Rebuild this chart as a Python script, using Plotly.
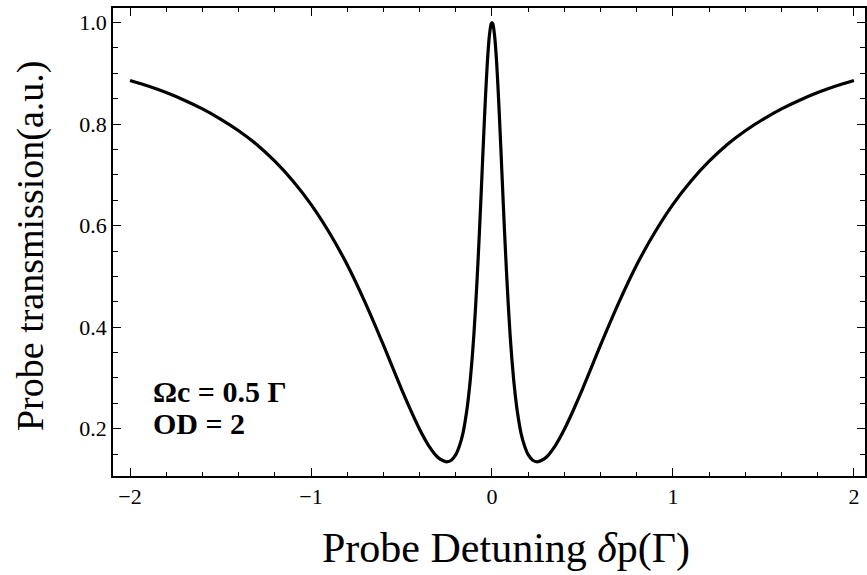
import plotly.graph_objects as go

# Probe detuning (in units of Gamma) and normalised probe transmission
detuning = [
    -2.00, -1.90, -1.80, -1.70, -1.60, -1.50, -1.40, -1.30, -1.20, -1.10,
    -1.00, -0.90, -0.80, -0.70, -0.60, -0.50, -0.45, -0.40, -0.35, -0.30,
    -0.275, -0.25, -0.225, -0.20, -0.18, -0.16, -0.14, -0.13, -0.12, -0.11,
    -0.10, -0.09, -0.08, -0.07, -0.06, -0.05, -0.045, -0.04, -0.035, -0.03,
    -0.025, -0.02, -0.015, -0.01, -0.005, 0.00,
    0.005, 0.01, 0.015, 0.02, 0.025, 0.03, 0.035, 0.04, 0.045, 0.05,
    0.06, 0.07, 0.08, 0.09, 0.10, 0.11, 0.12, 0.13, 0.14, 0.16,
    0.18, 0.20, 0.225, 0.25, 0.275, 0.30, 0.35, 0.40, 0.45, 0.50,
    0.60, 0.70, 0.80, 0.90, 1.00, 1.10, 1.20, 1.30, 1.40, 1.50,
    1.60, 1.70, 1.80, 1.90, 2.00,
]
transmission = [
    0.886, 0.875, 0.862, 0.847, 0.830, 0.810, 0.787, 0.760, 0.727, 0.688,
    0.642, 0.587, 0.523, 0.448, 0.365, 0.278, 0.237, 0.199, 0.167, 0.144,
    0.138, 0.135, 0.138, 0.149, 0.166, 0.192, 0.234, 0.262, 0.296, 0.337,
    0.386, 0.444, 0.510, 0.583, 0.662, 0.744, 0.784, 0.823, 0.860, 0.894,
    0.925, 0.951, 0.972, 0.987, 0.997, 1.000,
    0.997, 0.987, 0.972, 0.951, 0.925, 0.894, 0.860, 0.823, 0.784, 0.744,
    0.662, 0.583, 0.510, 0.444, 0.386, 0.337, 0.296, 0.262, 0.234, 0.192,
    0.166, 0.149, 0.138, 0.135, 0.138, 0.144, 0.167, 0.199, 0.237, 0.278,
    0.365, 0.448, 0.523, 0.587, 0.642, 0.688, 0.727, 0.760, 0.787, 0.810,
    0.830, 0.847, 0.862, 0.875, 0.886,
]

x_ticks = [-2, -1, 0, 1, 2]
y_ticks = [0.2, 0.4, 0.6, 0.8, 1.0]
y_tick_text = ["0.2", "0.4", "0.6", "0.8", "1.0"]
param_lines = ["Ωc = 0.5 Γ", "OD = 2"]

SERIF = "Liberation Serif"
X_RANGE = [-2.094, 2.061]
Y_RANGE = [0.107, 1.0286]

fig = go.Figure()
fig.add_trace(go.Scatter(
    x=detuning, y=transmission, mode="lines",
    line=dict(color="black", width=3.2, shape="spline", smoothing=0.6),
    showlegend=False,
))

fig.update_layout(
    width=867, height=575,
    margin=dict(l=113, r=0, t=8, b=99),
    plot_bgcolor="white",
    font=dict(family=SERIF, size=22, color="black"),
    xaxis=dict(
        range=X_RANGE, tickvals=x_ticks,
        ticks="inside", ticklen=8, tickwidth=1.2, tickcolor="black",
        showline=True, linecolor="black", linewidth=1.5, mirror="ticks",
        showgrid=False, zeroline=False,
        minor=dict(dtick=0.2, ticks="inside", ticklen=4, tickcolor="black"),
    ),
    yaxis=dict(
        range=Y_RANGE, tickvals=y_ticks, ticktext=y_tick_text,
        ticks="inside", ticklen=8, tickwidth=1.2, tickcolor="black",
        showline=True, linecolor="black", linewidth=1.5, mirror="ticks",
        showgrid=False, zeroline=False,
        minor=dict(dtick=0.05, ticks="inside", ticklen=5, tickcolor="black"),
    ),
)

# axis titles
fig.add_annotation(
    text="Probe Detuning <i>δ</i>p(Γ)", xref="paper", yref="paper",
    x=0.523, y=-0.154, xanchor="center", yanchor="middle", showarrow=False,
    font=dict(size=42),
)
fig.add_annotation(
    text="Probe transmission(a.u.)", xref="paper", yref="paper",
    x=-0.110, y=0.492, xanchor="center", yanchor="middle", showarrow=False,
    textangle=-90, font=dict(size=38),
)

# parameter labels inside the frame
for i, line in enumerate(param_lines):
    fig.add_annotation(
        text=f"<b>{line}</b>", xref="x", yref="y",
        x=-1.884, y=0.274 - i * 0.064, xanchor="left", yanchor="middle",
        showarrow=False, font=dict(size=30),
    )

fig.write_html("out.html")
